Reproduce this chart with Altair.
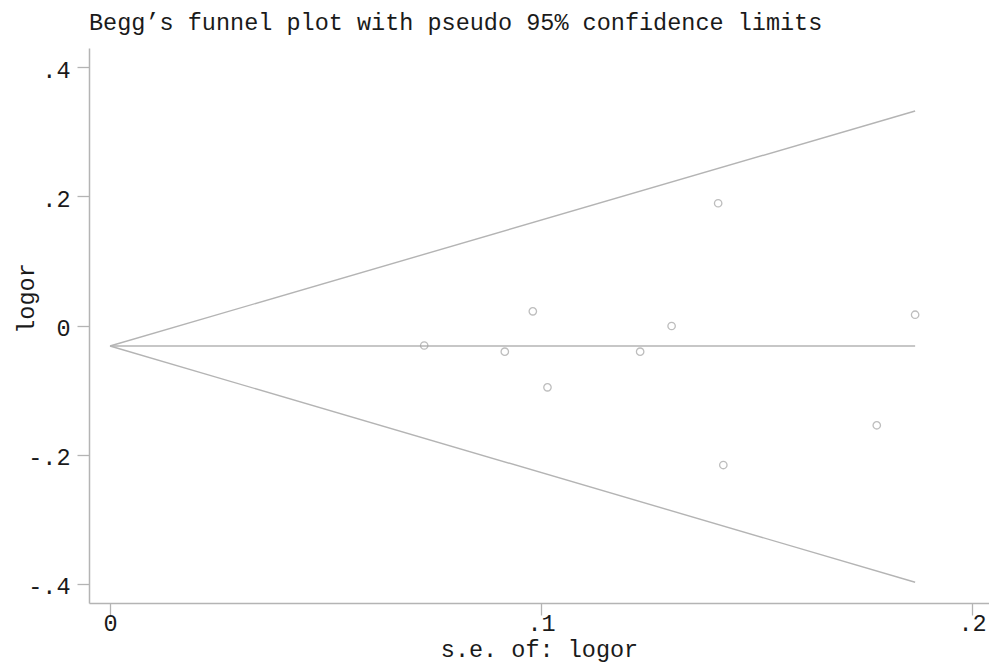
import altair as alt
import pandas as pd

# Study points (standard error, log odds ratio)
se = [0.0729, 0.0916, 0.0981, 0.1015, 0.1230, 0.1303, 0.1411, 0.1423, 0.1779, 0.1868]
logor = [-0.031, -0.0406, 0.0220, -0.0958, -0.0406, -0.0008, 0.1895, -0.2163, -0.1547, 0.0167]

# Funnel (pseudo 95% limits) and pooled estimate line
line_se = [0.0, 0.1868]
line_upper = [-0.0318, 0.3326]
line_lower = [-0.0318, -0.3981]
line_mean = [-0.0318, -0.0318]

x_ticks = [0, 0.1, 0.2]
y_ticks = [-0.4, -0.2, 0, 0.2, 0.4]

FONT = "Liberation Mono"
TEXT = "#1a1a1a"
GRAY = "#b4b4b4"

pts = pd.DataFrame({"se": se, "logor": logor})
rows = []
for name, vals in (("upper", line_upper), ("lower", line_lower), ("mean", line_mean)):
    for s, v in zip(line_se, vals):
        rows.append({"series": name, "x": s, "y": v})
lines = pd.DataFrame(rows)

xscale = alt.Scale(domain=[-0.00487, 0.20394], nice=False, zero=False)
yscale = alt.Scale(domain=[-0.4302, 0.4302], nice=False, zero=False)

lbl = "datum.value == 0 ? '0' : (datum.value < 0 ? '-' : '') + replace(format(abs(datum.value), '.1f'), '0.', '.')"

xaxis = alt.Axis(values=x_ticks, labelExpr=lbl, grid=False, tickSize=12,
                 labelPadding=15, labelBaseline="alphabetic", labelFlush=False,
                 title="s.e. of: logor", titleY=53, titleBaseline="alphabetic")
yaxis = alt.Axis(values=y_ticks, labelExpr=lbl, grid=False, tickSize=12,
                 labelPadding=7, labelBaseline="middle", labelFlush=False, labelOffset=3,
                 title="logor", titleAngle=270, titleX=-56, titleY=250,
                 titleBaseline="alphabetic", titleAlign="center")

line_layer = alt.Chart(lines).mark_line(color=GRAY, strokeWidth=1.4).encode(
    x=alt.X("x:Q", scale=xscale, axis=xaxis, title="s.e. of: logor"),
    y=alt.Y("y:Q", scale=yscale, axis=yaxis, title="logor"),
    detail="series:N",
    order="x:Q",
)

point_layer = alt.Chart(pts).mark_point(
    shape="circle", filled=False, size=55, color="#a2a2a2", strokeWidth=1.3
).encode(
    x=alt.X("se:Q", scale=xscale, axis=xaxis, title="s.e. of: logor"),
    y=alt.Y("logor:Q", scale=yscale, axis=yaxis, title="logor"),
)

chart = alt.layer(line_layer, point_layer).properties(
    width=900,
    height=555,
    background="white",
    title=alt.TitleParams(
        "Begg\u2019s funnel plot with pseudo 95% confidence limits",
        anchor="start", frame="group", baseline="alphabetic", offset=19, dy=24,
        font=FONT, fontSize=23.5, fontWeight="normal", color=TEXT,
    ),
    autosize=alt.AutoSizeParams(type="none"),
    padding={"left": 81, "top": 40, "right": 0, "bottom": 59},
).configure_view(stroke=None).configure_axis(
    labelFont=FONT, labelFontSize=23.5, labelColor=TEXT,
    titleFont=FONT, titleFontSize=23.5, titleColor=TEXT, titleFontWeight="normal",
    domainColor=GRAY, domainWidth=1.5, tickColor=GRAY, tickWidth=1.3,
)

chart.save("out.html", embed_options={"renderer": "svg", "actions": False})
